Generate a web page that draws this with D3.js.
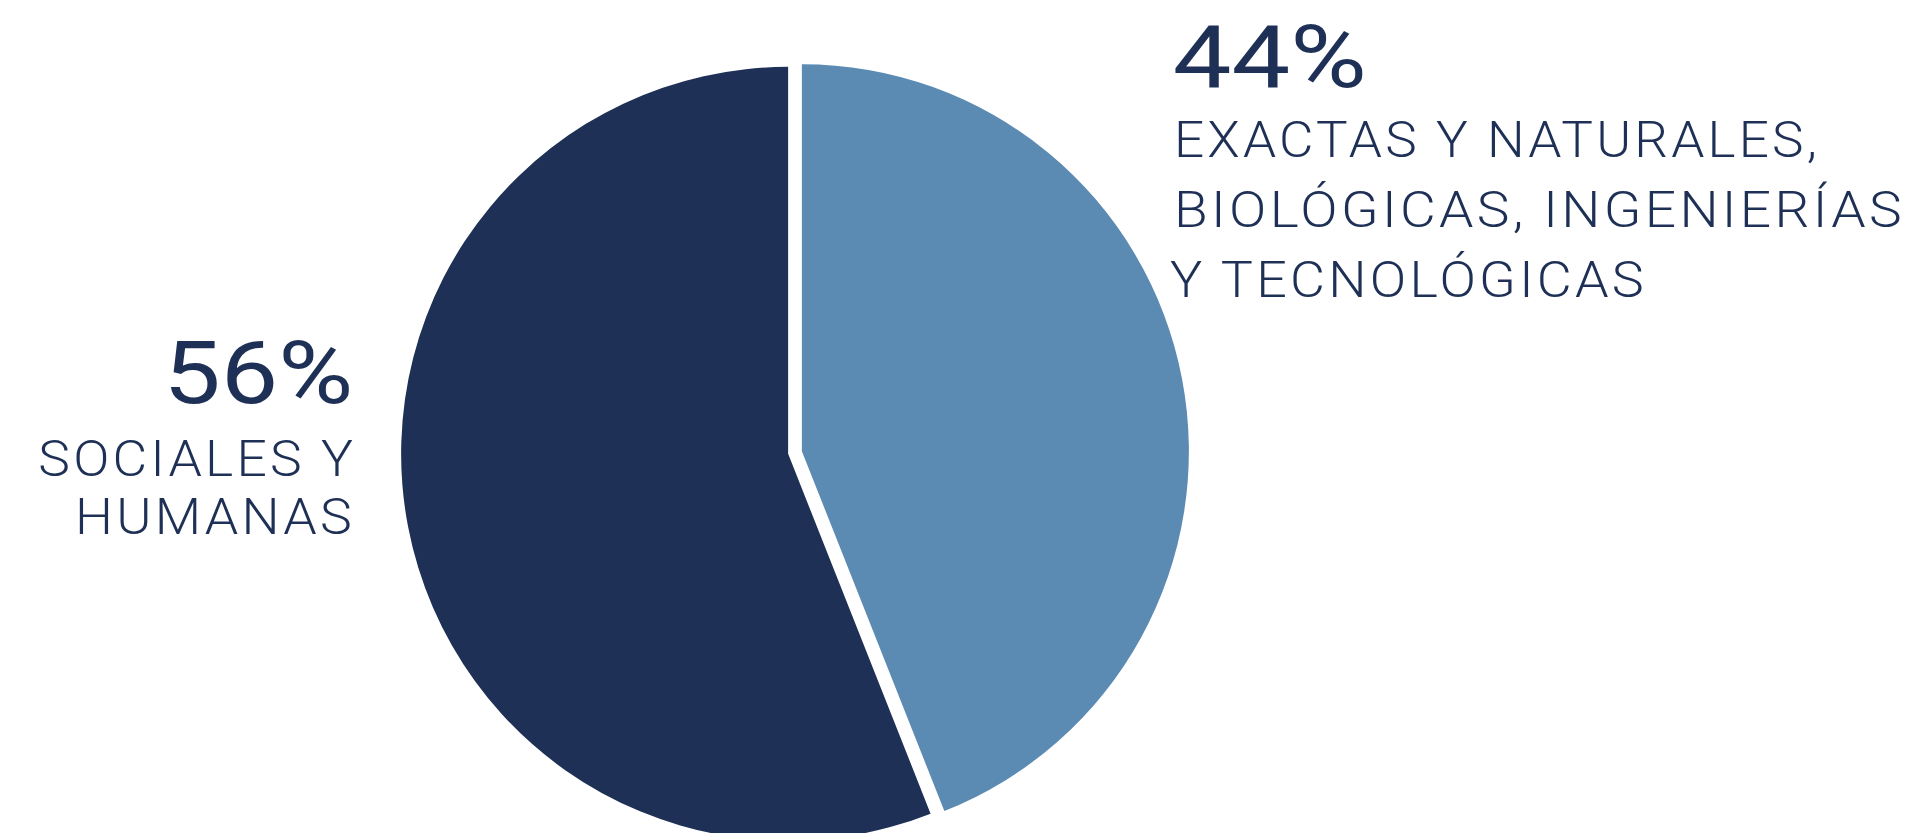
<!DOCTYPE html>
<html lang="es">
<head>
<meta charset="utf-8">
<title>Distribución por área del conocimiento</title>
<script src="https://cdn.jsdelivr.net/npm/d3@7"></script>
<style>
  html, body { margin: 0; padding: 0; background: #ffffff; }
  svg { display: block; }
  text { font-family: Roboto, "Noto Sans", "DejaVu Sans", sans-serif; fill: #1e3056; }
</style>
</head>
<body>
<svg id="chart" width="1921" height="833"></svg>
<script>
// Áreas del conocimiento y su participación (%)
const categories = [
  "Exactas y Naturales, Biológicas, Ingenierías y Tecnológicas",
  "Sociales y Humanas"
];
const shares = [44, 56];
const labelLines = [
  ["EXACTAS Y NATURALES,", "BIOLÓGICAS, INGENIERÍAS", "Y TECNOLÓGICAS"],
  ["SOCIALES Y", "HUMANAS"]
];
const sliceColors = ["#5b8ab3", "#1e3056"];

// Geometry
const cx = 795, cy = 452.5, R = 387;
const explode = 7; // each slice pushed out along its bisector

const svg = d3.select("#chart");

const data = categories.map((c, i) => ({ name: c, value: shares[i], lines: labelLines[i], color: sliceColors[i] }));

const pie = d3.pie().sort(null).value(d => d.value).startAngle(0).endAngle(2 * Math.PI);
const arc = d3.arc().innerRadius(0).outerRadius(R);

const g = svg.append("g").attr("transform", `translate(${cx},${cy})`);

g.selectAll("path.slice")
  .data(pie(data))
  .join("path")
  .attr("class", "slice")
  .attr("d", arc)
  .attr("fill", d => d.data.color)
  .attr("transform", d => {
    const a = (d.startAngle + d.endAngle) / 2;
    return `translate(${explode * Math.sin(a)},${-explode * Math.cos(a)})`;
  });

// Label blocks: percentage on top, category name below
const labelLayout = [
  { x: 1172.7, pctW: 194, pctY: 87.3, lines: [
      { x: 1174, w: 646, y: 157.3 },
      { x: 1174, w: 731, y: 227 },
      { x: 1170, w: 477, y: 296.7 } ] },
  { x: 163.3, pctW: 190, pctY: 402.7, lines: [
      { x: 38.3, w: 318, y: 476 },
      { x: 75, w: 280, y: 534 } ] }
];

data.forEach((d, i) => {
  const L = labelLayout[i];
  svg.append("text")
    .attr("x", L.x)
    .attr("y", L.pctY)
    .attr("font-size", 87)
    .attr("font-weight", 400)
    .attr("textLength", L.pctW)
    .attr("lengthAdjust", "spacingAndGlyphs")
    .text(`${d.value}%`);

  d.lines.forEach((line, j) => {
    const p = L.lines[j];
    svg.append("text")
      .attr("x", p.x)
      .attr("y", p.y)
      .attr("font-size", 50)
      .attr("font-weight", 300)
      .attr("letter-spacing", 3)
      .attr("textLength", p.w)
      .attr("lengthAdjust", "spacingAndGlyphs")
      .text(line);
  });
});
</script>
</body>
</html>
